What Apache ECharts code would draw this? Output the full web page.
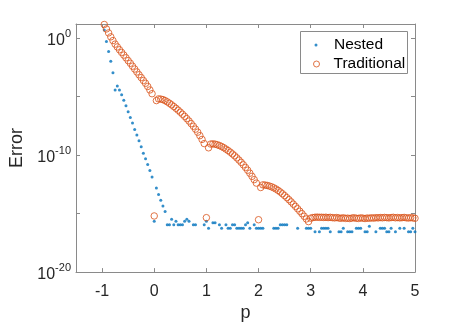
<!DOCTYPE html>
<html><head><meta charset="utf-8">
<script src="https://cdn.jsdelivr.net/npm/echarts@6/dist/echarts.min.js"></script>
<style>html,body{margin:0;padding:0;background:#fff}#c{width:458px;height:327px}</style>
</head><body><div id="c"></div>
<script>
// sample grid: p = k/24, k = -23 .. 120
const p = Array.from({length: 144}, (_, i) => (i - 23) / 24);

const nested = [
 5.0, 0.51, 7.4e-2, 1.05e-2, 1.1e-3, 3.7e-5, 8.2e-5, 3.7e-5, 1.42e-5, 5.0e-6,
 1.66e-6, 5.2e-7, 1.62e-7, 5.5e-8, 1.58e-8, 5.2e-9, 1.66e-9, 5.1e-10, 1.48e-10, 5.0e-11,
 1.55e-11, 4.8e-12, 1.38e-12,
 2.22e-16, 1.55e-13, 4.2e-14, 1.41e-14, 4.4e-15, 1.55e-15, 1.11e-16, 1.11e-16, 3.33e-16, 1.11e-16,
 2.22e-16, 1.11e-16, 1.11e-16, 1.11e-16, 2.22e-16, 3.33e-16, 2.22e-16, null, 1.11e-16, 1.11e-16,
 null, null, null, 1.11e-16,
 2.22e-16, 5.55e-17, null, 1.67e-16, 1.67e-16, null, 1.11e-16, 5.55e-17, null, 1.11e-16,
 5.55e-17, 5.55e-17, 1.11e-16, 1.11e-16, 5.55e-17, 5.55e-17, 5.55e-17, 5.55e-17, 1.11e-16, 1.67e-16,
 5.55e-17, null, 1.11e-16, 5.55e-17,
 5.55e-17, 5.55e-17, 5.55e-17, null, null, null, null, 5.55e-17, 5.55e-17, 5.55e-17,
 1.11e-16, 1.11e-16, 1.11e-16, 1.11e-16, null, null, null, null, 5.55e-17, null,
 null, null, 5.55e-17, 5.55e-17,
 5.55e-17, null, 2.78e-17, null, 2.78e-17, 5.55e-17, 5.55e-17, 5.55e-17, 5.55e-17, 2.78e-17,
 null, null, null, 2.78e-17, 2.78e-17, 5.55e-17, null, 2.78e-17, 2.78e-17, 2.78e-17,
 null, 5.55e-17, 5.55e-17, 5.55e-17,
 null, 2.78e-17, 2.78e-17, 8.3e-17, null, null, 2.78e-17, null, 5.55e-17, 5.55e-17,
 5.55e-17, 2.78e-17, 2.78e-17, 5.55e-17, null, 2.78e-17, null, 5.55e-17, null, 5.55e-17,
 null, 2.78e-17, 2.78e-17, 5.55e-17, 2.78e-17
];

const traditional = [
 14.7, 6.10, 2.80, 1.29, 0.62, 0.31, 0.178, 0.102, 6.0e-2, 3.55e-2,
 2.09e-2, 1.20e-2, 7.1e-3, 3.98e-3, 2.29e-3, 1.29e-3, 7.4e-4, 4.27e-4, 2.40e-4, 1.38e-4,
 7.4e-5, 3.72e-5, 1.78e-5,
 6.3e-16, 4.59e-6, 6.40e-6, 6.15e-6, 5.58e-6, 4.59e-6, 3.57e-6, 2.72e-6, 1.99e-6, 1.43e-6,
 1.01e-6, 6.97e-7, 4.72e-7, 3.14e-7, 2.05e-7, 1.31e-7, 8.2e-8, 4.94e-8, 2.92e-8, 1.66e-8,
 9.1e-9, 4.61e-9, 2.20e-9, 9.7e-10,
 4.5e-16, 4.22e-10, 8.83e-10, 9.18e-10, 8.67e-10, 7.71e-10, 6.59e-10, 5.43e-10, 4.30e-10, 3.27e-10,
 2.45e-10, 1.79e-10, 1.26e-10, 8.73e-11, 5.81e-11, 3.78e-11, 2.42e-11, 1.49e-11, 8.79e-12, 5.10e-12,
 2.84e-12, 1.53e-12, 8.04e-13, 4.07e-13,
 3.0e-16, 1.70e-13, 2.87e-13, 2.76e-13, 2.55e-13, 2.27e-13, 1.95e-13, 1.60e-13, 1.27e-13, 9.66e-14,
 7.08e-14, 4.99e-14, 3.44e-14, 2.33e-14, 1.55e-14, 1.01e-14, 6.47e-15, 4.14e-15, 2.59e-15, 1.60e-15,
 9.82e-16, 5.92e-16, 3.50e-16, 2.07e-16, 4.08e-16,
 4.6e-16, 4.9e-16, 5.0e-16, 4.8e-16, 4.9e-16, 4.7e-16, 4.9e-16, 4.6e-16,
 4.8e-16, 4.5e-16, 4.3e-16, 4.6e-16, 4.2e-16, 4.0e-16, 4.4e-16, 3.9e-16,
 4.1e-16, 3.8e-16, 4.2e-16, 4.4e-16, 4.0e-16, 3.9e-16, 4.3e-16, 4.1e-16,
 3.8e-16, 4.2e-16, 4.0e-16, 4.4e-16, 4.1e-16, 4.5e-16, 4.3e-16, 4.6e-16,
 4.4e-16, 4.7e-16, 4.5e-16, 4.3e-16, 4.6e-16, 4.8e-16, 4.4e-16, 4.6e-16,
 4.3e-16, 4.5e-16, 4.7e-16, 4.4e-16, 4.2e-16, 4.5e-16, 4.3e-16, 4.0e-16
];

const xTicks = [-1, 0, 1, 2, 3, 4, 5];
const yLabelExponents = [-20, -10, 0];
const seriesNames = ['Nested', 'Traditional'];

const FONT = '"Liberation Sans", Arial, Helvetica, sans-serif';
const AXIS_COLOR = '#8a8a8a';
const TEXT_COLOR = '#262626';
const X_MIN = -1.5, X_MAX = 5, Y_MIN = 1e-20, Y_MAX = 16.2;

const nestedData = p.map((x, i) => [x, nested[i]]).filter(d => d[1] != null);
const tradData = p.map((x, i) => [x, traditional[i]]).filter(d => d[1] != null);

function yFmt(v) {
  const e = Math.round(Math.log10(v));
  if (Math.abs(Math.log10(v) - e) > 1e-6) return '';
  if (yLabelExponents.indexOf(e) < 0) return '';
  return '{b|10}{s|' + e + '}';
}

const axisLineStyle = {show: true, onZero: false, lineStyle: {color: AXIS_COLOR, width: 1}};

const chart = echarts.init(document.getElementById('c'), null, {renderer: 'canvas'});
chart.setOption({
  animation: false,
  backgroundColor: '#fff',
  textStyle: {fontFamily: FONT},
  grid: {left: 72, right: 43, top: 24, bottom: 52},
  xAxis: [{
    type: 'value', min: X_MIN, max: X_MAX, position: 'bottom',
    name: 'p', nameLocation: 'middle', nameGap: 31,
    nameTextStyle: {fontSize: 18, color: TEXT_COLOR, fontFamily: FONT},
    axisLine: axisLineStyle,
    axisTick: {inside: true, length: 4, customValues: xTicks, lineStyle: {color: AXIS_COLOR}},
    axisLabel: {customValues: xTicks, fontSize: 16, color: TEXT_COLOR, margin: 11, fontFamily: FONT},
    splitLine: {show: false}
  }, {
    type: 'value', min: X_MIN, max: X_MAX, position: 'top',
    axisLine: axisLineStyle,
    axisTick: {inside: true, length: 4, customValues: xTicks, lineStyle: {color: AXIS_COLOR}},
    axisLabel: {show: false},
    splitLine: {show: false}
  }],
  yAxis: [{
    type: 'log', logBase: 10, min: Y_MIN, max: Y_MAX, interval: 5, position: 'left',
    name: 'Error', nameLocation: 'middle', nameGap: 50, nameRotate: 90,
    nameTextStyle: {fontSize: 18, color: TEXT_COLOR, fontFamily: FONT},
    axisLine: axisLineStyle,
    axisTick: {inside: true, length: 4, lineStyle: {color: AXIS_COLOR}},
    axisLabel: {
      formatter: yFmt, margin: 5, color: TEXT_COLOR, fontFamily: FONT,
      rich: {
        b: {fontSize: 16, color: TEXT_COLOR, fontFamily: FONT, verticalAlign: 'bottom'},
        s: {fontSize: 11, color: TEXT_COLOR, fontFamily: FONT, verticalAlign: 'top', padding: [0, 0, 9, 0]}
      }
    },
    splitLine: {show: false}
  }, {
    type: 'log', logBase: 10, min: Y_MIN, max: Y_MAX, interval: 5, position: 'right',
    axisLine: axisLineStyle,
    axisTick: {inside: true, length: 4, lineStyle: {color: AXIS_COLOR}},
    axisLabel: {show: false},
    splitLine: {show: false}
  }],
  legend: [{
    data: [{name: seriesNames[0]}],
    left: 314.5, top: 37, padding: 0, itemWidth: 20, itemHeight: 3, selectedMode: false,
    textStyle: {fontSize: 15.5, color: '#000', fontFamily: FONT, padding: [0, 0, 0, 3]}
  }, {
    data: [{name: seriesNames[1], itemStyle: {color: 'rgba(0,0,0,0)', borderColor: '#D95319', borderWidth: 1}}],
    left: 313, top: 56, padding: 0, itemWidth: 20, itemHeight: 6, selectedMode: false,
    textStyle: {fontSize: 15.5, color: '#000', fontFamily: FONT, padding: [0, 0, 0, 2]}
  }],
  graphic: [{
    type: 'rect', z: 3,
    shape: {x: 300.5, y: 31.5, width: 107, height: 42},
    style: {fill: '#fff', stroke: AXIS_COLOR, lineWidth: 1}
  }],
  series: [{
    name: seriesNames[0], type: 'scatter', data: nestedData, xAxisIndex: 0, yAxisIndex: 0,
    symbol: 'circle', symbolSize: 3, silent: true,
    itemStyle: {color: '#0072BD'}
  }, {
    name: seriesNames[1], type: 'scatter', data: tradData, xAxisIndex: 0, yAxisIndex: 0,
    symbol: 'circle', symbolSize: 6.5, silent: true,
    itemStyle: {color: 'rgba(0,0,0,0)', borderColor: '#D95319', borderWidth: 1}
  }]
});
</script></body></html>
